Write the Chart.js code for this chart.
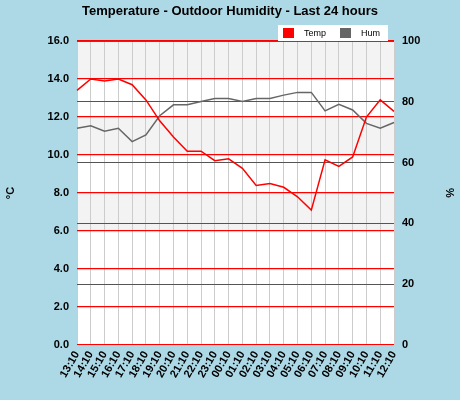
<!DOCTYPE html>
<html><head><meta charset="utf-8">
<script src="https://cdn.jsdelivr.net/npm/chart.js@4/dist/chart.umd.min.js"></script>
<style>html,body{margin:0;padding:0;background:#add8e6;}#c{display:block;}</style>
</head><body><canvas id="c" width="460" height="400"></canvas>
<script>
const labels=['13:10','14:10','15:10','16:10','17:10','18:10','19:10','20:10','21:10','22:10','23:10','00:10','01:10','02:10','03:10','04:10','05:10','06:10','07:10','08:10','09:10','10:10','11:10','12:10'];
const temp=[13.4,14.0,13.9,14.0,13.7,12.9,11.8,10.95,10.2,10.2,9.7,9.8,9.3,8.4,8.5,8.3,7.8,7.1,9.75,9.4,9.9,12.0,12.9,12.3];
const hum=[71.3,72.1,70.3,71.3,66.9,69.1,75.4,79.0,79.0,80.1,81.1,81.1,80.1,81.1,81.1,82.2,83.1,83.1,77.0,79.2,77.3,72.9,71.3,73.2];
const F='Liberation Sans';
const deco={id:'deco',
beforeDraw(ch){const {ctx,chartArea:a,scales:{y}}=ch;ctx.save();ctx.fillStyle='#fff';ctx.fillRect(a.left,a.top,a.width,a.height);ctx.fillStyle='#f3f3f3';[[14,16],[10,12],[6,8]].forEach(([l,h])=>{ctx.fillRect(a.left,y.getPixelForValue(h),a.width,y.getPixelForValue(l)-y.getPixelForValue(h));});ctx.restore();},
afterDraw(ch){const ctx=ch.ctx;ctx.save();ctx.fillStyle='#000';ctx.font='bold 13px '+F;ctx.textAlign='center';ctx.textBaseline='middle';ctx.fillText('Temperature - Outdoor Humidity - Last 24 hours',230,11);
ctx.fillStyle='#fff';ctx.fillRect(278,25,110,16);
ctx.font='9px '+F;ctx.textAlign='left';
ch.data.datasets.forEach((d,i)=>{const x=283+i*57;ctx.fillStyle=d.borderColor;ctx.fillRect(x,28,11,10);ctx.fillStyle='#000';ctx.fillText(d.label,x+21,34);});
ctx.restore();}};
new Chart(document.getElementById('c'),{type:'line',
data:{labels,datasets:[
{label:'Temp',data:temp,borderColor:'#ff0000',borderWidth:1.5,pointRadius:0,tension:0,yAxisID:'y'},
{label:'Hum',data:hum,borderColor:'#666666',borderWidth:1.5,pointRadius:0,tension:0,yAxisID:'y2'}]},
options:{responsive:false,animation:false,devicePixelRatio:1,
layout:{padding:{top:41}},
plugins:{title:{display:false},legend:{display:false},tooltip:{enabled:false}},
scales:{
x:{afterFit(s){s.height=55;},grid:{color:'#cccccc',drawTicks:false},border:{color:'#ccc'},ticks:{color:'#000',maxRotation:60,minRotation:60,autoSkip:false,padding:4,font:{family:F,size:11,weight:'bold'}}},
y:{position:'left',min:0,max:16,afterFit(s){s.width=77;},ticks:{stepSize:2,autoSkip:false,color:'#000',padding:8,callback:v=>v.toFixed(1),font:{family:F,size:11,weight:'bold'}},grid:{color:'#ff0000',drawTicks:false,lineWidth:1.2},border:{display:false},
title:{display:true,text:'°C',color:'#000',font:{family:F,size:11,weight:'bold'}}},
y2:{position:'right',min:0,max:100,afterFit(s){s.width=66;},ticks:{stepSize:20,autoSkip:false,color:'#000',padding:8,font:{family:F,size:11,weight:'bold'}},grid:{color:'#555',borderDash:[4,4],drawTicks:false},border:{display:false},
title:{display:true,text:'%',color:'#000',font:{family:F,size:11,weight:'bold'}}}}},
plugins:[deco]});
</script></body></html>
